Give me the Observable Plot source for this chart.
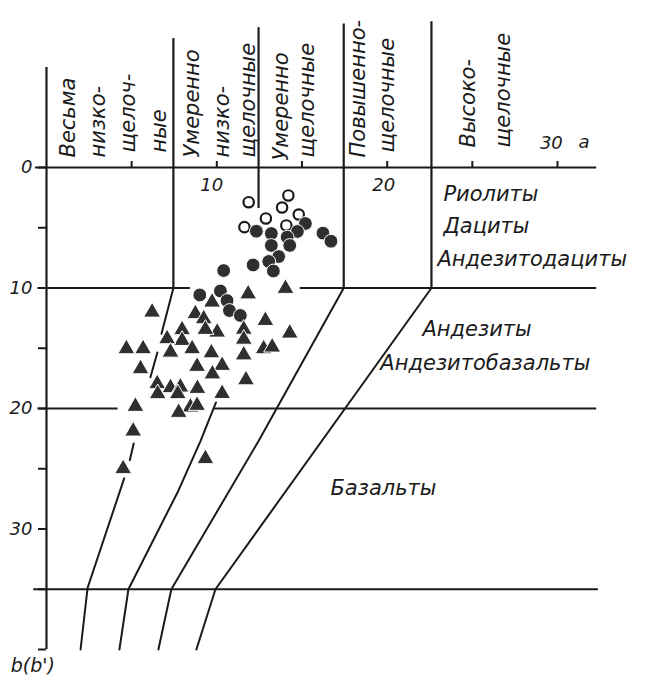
<!DOCTYPE html>
<html>
<head>
<meta charset="utf-8">
<script src="https://cdn.jsdelivr.net/npm/d3@7"></script>
<script src="https://cdn.jsdelivr.net/npm/@observablehq/plot@0.6"></script>
<style>
  html, body { margin: 0; padding: 0; background: #fff; }
  #chart svg { display: block; }
</style>
</head>
<body>
<div id="chart"></div>
<script>
// Zavaritsky-type diagram: a (alkali parameter) against b (femic parameter),
// b grows downwards. Columns = alkalinity series, rows = rock names.

const ink = "#1b1b1b";
const markFill = "#2f2f2f";

// axis ticks
const aTicks = [5, 10, 15, 20, 25, 30];
const bTicks = [0, 5, 10, 15, 20, 25, 30, 35, 40];
const bTickLabels = [0, 10, 20, 30];

// samples, [a, b]
const openCircles = [
  [11.87, 2.88], [14.20, 2.32], [13.83, 3.32], [12.88, 4.23],
  [14.81, 3.90], [11.62, 4.95], [14.08, 4.81]
];

const filledCircles = [
  [12.32, 5.29], [13.20, 5.48], [15.20, 4.65], [14.73, 5.31],
  [14.13, 5.78], [13.20, 6.47], [14.28, 6.47], [16.23, 5.45],
  [16.70, 6.12], [13.63, 7.39], [13.05, 7.80], [12.13, 8.09],
  [13.32, 8.59], [10.40, 8.55], [9.00, 10.58], [10.21, 10.25],
  [10.60, 11.04], [10.74, 11.87], [11.38, 12.28]
];

const triangles = [
  [14.03, 10.04], [11.84, 10.50], [9.72, 11.18], [6.20, 12.01],
  [8.74, 12.14], [9.23, 12.56], [12.85, 12.70], [14.28, 13.75],
  [11.58, 13.43], [11.58, 14.26], [10.02, 13.67], [9.33, 13.44],
  [7.96, 13.47], [7.96, 14.36], [7.08, 14.22], [4.69, 15.05],
  [5.67, 15.05], [7.28, 15.33], [8.55, 15.05], [9.68, 15.39],
  [12.75, 15.05], [13.25, 14.91], [11.58, 15.56], [8.84, 16.51],
  [10.31, 16.43], [5.52, 16.71], [9.74, 17.14], [11.71, 17.63],
  [6.50, 17.95], [7.28, 18.28], [7.86, 18.23], [8.86, 18.34],
  [6.53, 18.78], [7.71, 18.78], [10.31, 18.76], [5.22, 19.83],
  [8.45, 19.89], [8.84, 19.75], [7.76, 20.33], [5.09, 21.88],
  [4.50, 25.00], [9.33, 24.17]
];

// vertical dividers: [a, b from, b to]
const verticalDividers = [
  [0, -8.3, 40],
  [7.45, -10.7, 10],
  [12.45, -11.6, 3.4],
  [17.45, -11.9, 10],
  [22.6, -12.1, 10]
];

// horizontal dividers: [b, a from, a to]
const horizontalDividers = [
  [0, -0.65, 32.3],
  [10, -0.5, 8.45], [10, 14.9, 32.3],
  [20, -0.5, 4.2], [20, 9.8, 32.3],
  [35, -0.75, 32.4]
];

// inclined dividers below b = 10
const inclinedDividers = [
  {seg: "1a", a: 7.45, b: 10}, {seg: "1a", a: 6.75, b: 13.8},
  {seg: "1b", a: 6.51, b: 15.35}, {seg: "1b", a: 6.10, b: 17.4},
  {seg: "1c", a: 5.12, b: 22.9}, {seg: "1c", a: 4.89, b: 24.3},
  {seg: "1d", a: 4.56, b: 25.8}, {seg: "1d", a: 2.41, b: 34.9}, {seg: "1d", a: 2.0, b: 40},
  {seg: "2", a: 9.95, b: 19.5}, {seg: "2", a: 9.04, b: 22.7}, {seg: "2", a: 7.75, b: 26.8},
  {seg: "2", a: 4.81, b: 35}, {seg: "2", a: 4.28, b: 40},
  {seg: "3", a: 17.45, b: 10}, {seg: "3", a: 12.45, b: 22.7}, {seg: "3", a: 7.33, b: 35},
  {seg: "3", a: 6.57, b: 40},
  {seg: "4", a: 22.6, b: 10}, {seg: "4", a: 9.92, b: 35}, {seg: "4", a: 8.8, b: 40}
];

// column captions (alkalinity series)
const seriesCaptions = [
  "Весьма", "низко-", "щелоч-", "ные",
  "Умеренно", "низко-", "щелочные",
  "Умеренно", "щелочные",
  "Повышенно-", "щелочные",
  "Высоко-", "щелочные"
];
// where each caption sits: [a, b of its lower end, length in px]
const seriesCaptionPlace = [
  [1.29, -0.83, 82], [3.05, -0.83, 89], [4.81, -1.24, 105], [6.63, -1.24, 55],
  [8.57, -0.83, 119], [10.33, -0.83, 80], [11.85, -0.83, 130],
  [13.79, -0.58, 123], [15.32, -0.83, 125],
  [18.31, -0.83, 150], [20.0, -1.24, 129],
  [24.77, -1.66, 97], [26.82, -1.66, 125]
];

// rock names
const rockNames = [
  "Риолиты", "Дациты", "Андезитодациты",
  "Андезиты", "Андезитобазальты", "Базальты"
];
// [a of left edge, b of middle, length in px]
const rockNamePlace = [
  [23.3, 2.24, 83], [23.3, 4.9, 77], [22.95, 7.63, 225],
  [22.07, 13.44, 120], [19.6, 16.27, 240], [16.67, 26.64, 128]
];

const seriesRows = seriesCaptions.map((t, i) => ({text: t, a: seriesCaptionPlace[i][0], b: seriesCaptionPlace[i][1], len: seriesCaptionPlace[i][2]}));
const rockRows = rockNames.map((t, i) => ({text: t, a: rockNamePlace[i][0], b: rockNamePlace[i][1], len: rockNamePlace[i][2]}));

const aLabels = [
  {text: "10", a: 9.7, b: 1.5},
  {text: "20", a: 19.8, b: 1.5},
  {text: "30", a: 29.64, b: -2.05},
  {text: "a", a: 31.55, b: -2.1}
];

const chart = Plot.plot({
  width: 665,
  height: 684,
  marginLeft: 46,
  marginRight: 108,
  marginTop: 167,
  marginBottom: 35,
  x: {domain: [0, 30]},
  y: {domain: [0, 40], reverse: true},
  style: {background: "#fff", fontFamily: "DejaVu Sans", fontStyle: "italic", color: ink},
  marks: [
    Plot.ruleX(verticalDividers, {x: d => d[0], y1: d => d[1], y2: d => d[2], stroke: ink, strokeWidth: 2.2}),
    Plot.ruleY(horizontalDividers, {y: d => d[0], x1: d => d[1], x2: d => d[2], stroke: ink, strokeWidth: 2.2}),
    Plot.line(inclinedDividers, {x: "a", y: "b", z: "seg", stroke: ink, strokeWidth: 2}),
    Plot.axisX({anchor: "top", ticks: aTicks, tickSize: 7, tickFormat: () => "", label: null, stroke: ink, strokeWidth: 2}),
    Plot.axisY({anchor: "left", ticks: bTicks, tickSize: 8, tickPadding: 6, label: null,
      tickFormat: d => bTickLabels.includes(d) ? String(d) : "", fontSize: 18, stroke: ink, strokeWidth: 2}),
    Plot.text(aLabels, {x: "a", y: "b", text: "text", fontSize: 18, fill: ink}),
    Plot.text(["b(b')"], {x: -2.1, y: 41.4, text: d => d, textAnchor: "start", fontSize: 19, fill: ink}),
    Plot.text(seriesRows, {x: "a", y: "b", text: "text", rotate: -90, textAnchor: "start", lineAnchor: "middle",
      fontSize: 21, fill: ink, ariaLabel: "series captions"}),
    Plot.text(rockRows, {x: "a", y: "b", text: "text", textAnchor: "start", lineAnchor: "middle",
      fontSize: 21, fill: ink, ariaLabel: "rock names"}),
    Plot.dot(openCircles, {x: d => d[0], y: d => d[1], r: 5.2, fill: "none", stroke: ink, strokeWidth: 2.2}),
    Plot.dot(filledCircles, {x: d => d[0], y: d => d[1], r: 6.9, fill: markFill, stroke: "#fff", strokeWidth: 1}),
    Plot.dot(triangles, {x: d => d[0], y: d => d[1], symbol: "triangle", r: 6.3, fill: markFill, stroke: "#fff", strokeWidth: 1})
  ]
});

// stretch the hand-lettered captions to their lettered length
for (const [label, rows] of [["series captions", seriesRows], ["rock names", rockRows]]) {
  d3.select(chart).selectAll(`g[aria-label="${label}"] text`).each(function(_, i) {
    this.setAttribute("textLength", rows[i].len);
    this.setAttribute("lengthAdjust", "spacing");
  });
}

document.getElementById("chart").append(chart);
</script>
</body>
</html>
